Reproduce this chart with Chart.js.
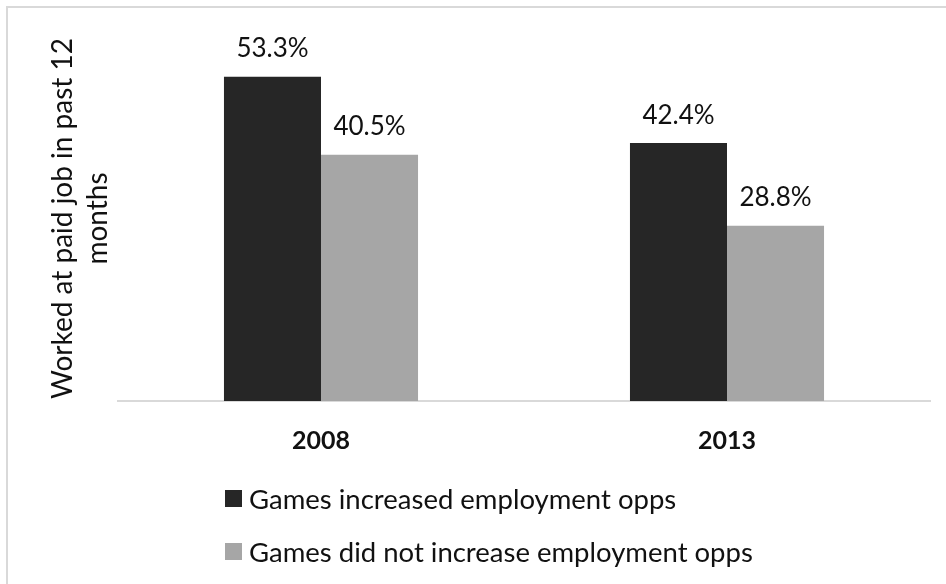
<!DOCTYPE html>
<html>
<head>
<meta charset="utf-8">
<script src="https://cdn.jsdelivr.net/npm/chart.js@4/dist/chart.umd.min.js"></script>
<style>
  html, body { margin: 0; padding: 0; background: #fff; overflow: hidden; }
  #wrap { position: relative; width: 946px; height: 584px; overflow: hidden; }
  #frame {
    position: absolute; left: 6px; top: 6px; width: 1200px; height: 1200px;
    border-left: 2px solid #d9d9d9; border-top: 2px solid #d9d9d9;
    box-sizing: border-box; pointer-events: none;
  }
  canvas { position: absolute; left: 0; top: 0; }
</style>
</head>
<body>
<div id="wrap">
  <canvas id="chart" width="946" height="584"></canvas>
  <div id="frame"></div>
</div>
<script>
// Survey years and the share who worked at a paid job in the past 12 months (%)
const years = ['2008', '2013'];
const increasedOpps = [53.3, 42.4];
const notIncreasedOpps = [40.5, 28.8];
const seriesNames = ['Games increased employment opps', 'Games did not increase employment opps'];
const seriesColors = ['#262626', '#a6a6a6'];
const yTitle = ['Worked at paid job in past 12', 'months'];

const FONT = 'Lato, "Open Sans", sans-serif';

// Percent labels above each bar
const valueLabels = {
  id: 'valueLabels',
  afterDatasetsDraw(chart) {
    const ctx = chart.ctx;
    ctx.save();
    ctx.font = '26px ' + FONT;
    ctx.fillStyle = '#111';
    ctx.textAlign = 'center';
    ctx.textBaseline = 'alphabetic';
    chart.data.datasets.forEach((ds, i) => {
      chart.getDatasetMeta(i).data.forEach((bar, j) => {
        ctx.fillText(ds.data[j].toFixed(1) + '%', bar.x, bar.y - 19.5);
      });
    });
    ctx.restore();
  }
};

// Stacked legend rows below the category labels
const stackedLegend = {
  id: 'stackedLegend',
  afterDraw(chart) {
    const ctx = chart.ctx;
    ctx.save();
    ctx.font = '27.5px ' + FONT;
    ctx.textBaseline = 'alphabetic';
    ctx.textAlign = 'left';
    chart.data.datasets.forEach((ds, i) => {
      const cy = 498.5 + i * 53;
      ctx.fillStyle = ds.backgroundColor;
      ctx.fillRect(225, cy - 8.5, 17, 17);
      ctx.fillStyle = '#111';
      ctx.fillText(ds.label, 249, cy + 10);
    });
    ctx.restore();
  }
};

new Chart(document.getElementById('chart'), {
  type: 'bar',
  data: {
    labels: years,
    datasets: [
      { label: seriesNames[0], data: increasedOpps, backgroundColor: seriesColors[0] },
      { label: seriesNames[1], data: notIncreasedOpps, backgroundColor: seriesColors[1] }
    ]
  },
  options: {
    responsive: false,
    animation: false,
    devicePixelRatio: 1,
    categoryPercentage: 0.478,
    barPercentage: 1.0,
    layout: { padding: { top: 36, right: 16, bottom: 0, left: 0 } },
    plugins: { legend: { display: false }, tooltip: { enabled: false } },
    scales: {
      x: {
        grid: { display: false, drawTicks: false },
        border: { display: true, color: '#d9d9d9', width: 2 },
        ticks: { color: '#111', padding: 25, font: { family: FONT, size: 25, weight: 'bold' } },
        afterFit(scale) { scale.height = 183; }
      },
      y: {
        min: 0,
        max: 60,
        grid: { display: false, drawTicks: false },
        border: { display: false },
        ticks: { display: false },
        title: {
          display: true,
          text: yTitle,
          color: '#111',
          padding: { top: 45, bottom: 0 },
          font: { family: FONT, size: 28, lineHeight: 1.25 }
        },
        afterFit(scale) { scale.width = 118; }
      }
    }
  },
  plugins: [valueLabels, stackedLegend]
});
</script>
</body>
</html>
